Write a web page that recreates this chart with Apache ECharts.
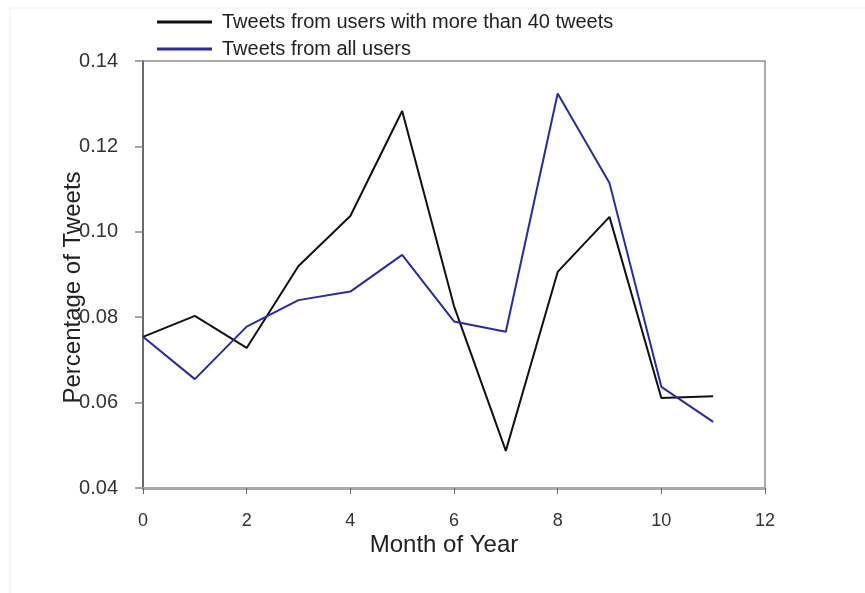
<!DOCTYPE html>
<html>
<head>
<meta charset="utf-8">
<script src="https://cdn.jsdelivr.net/npm/echarts@6/dist/echarts.min.js"></script>
<style>
  html, body { margin: 0; padding: 0; background: #fff; }
  #chart { width: 865px; height: 593px; }
</style>
</head>
<body>
<div id="chart"></div>
<script>
// Months 0..11
var months = [0, 1, 2, 3, 4, 5, 6, 7, 8, 9, 10, 11];

// Share of tweets per month
var heavyUsers = [0.0754, 0.0803, 0.0728, 0.0920, 0.1037, 0.1283, 0.0826, 0.0487, 0.0906, 0.1035, 0.0611, 0.0615];
var allUsers   = [0.0754, 0.0655, 0.0778, 0.0840, 0.0860, 0.0946, 0.0790, 0.0766, 0.1324, 0.1114, 0.0637, 0.0555];

var seriesNames = ['Tweets from users with more than 40 tweets', 'Tweets from all users'];

function pairs(xs, ys) {
  return xs.map(function (x, i) { return [x, ys[i]]; });
}

var font = '"Liberation Sans", Arial, sans-serif';
var chart = echarts.init(document.getElementById('chart'), null, { renderer: 'canvas' });

chart.setOption({
  animation: false,
  backgroundColor: '#ffffff',
  textStyle: { fontFamily: font },
  graphic: [{
    type: 'rect',
    shape: { x: 10, y: 8, width: 870, height: 600 },
    style: { fill: 'none', stroke: '#f0f0f0', lineWidth: 1 },
    z: -1
  }],
  legend: {
    orient: 'vertical',
    left: 152,
    top: 7,
    icon: 'rect',
    itemWidth: 55,
    itemHeight: 3,
    itemGap: 7,
    textStyle: { fontFamily: font, fontSize: 20, color: '#222', padding: [0, 0, 0, 5] },
    data: seriesNames
  },
  grid: {
    left: 143, right: 100, top: 61, bottom: 105,
    show: true,
    borderColor: '#aaaaaa',
    borderWidth: 2,
    containLabel: false
  },
  xAxis: {
    type: 'value',
    min: 0, max: 12, interval: 2,
    name: 'Month of Year',
    nameLocation: 'middle',
    nameGap: 45,
    nameMoveOverlap: false,
    nameTextStyle: { fontFamily: font, fontSize: 24, color: '#222', padding: [0, 20, 0, 0] },
    axisLine: { show: true, onZero: false, lineStyle: { color: '#aaaaaa', width: 3 } },
    axisTick: { show: true, inside: false, length: 6, lineStyle: { color: '#666', width: 1 } },
    axisLabel: { fontFamily: font, fontSize: 18, color: '#333', margin: 24 },
    splitLine: { show: false }
  },
  yAxis: {
    type: 'value',
    min: 0.04, max: 0.14, interval: 0.02,
    name: 'Percentage of Tweets',
    nameLocation: 'middle',
    nameGap: 58,
    nameMoveOverlap: false,
    nameTextStyle: { fontFamily: font, fontSize: 24, color: '#222', padding: [0, 26, 0, 0] },
    axisLine: { show: true, onZero: false, lineStyle: { color: '#555', width: 1.5 } },
    axisTick: { show: true, inside: false, length: 8, lineStyle: { color: '#888', width: 1.5 } },
    axisLabel: {
      fontFamily: font, fontSize: 20, color: '#333', margin: 25,
      formatter: function (v) { return v.toFixed(2); }
    },
    splitLine: { show: false }
  },
  series: [
    {
      name: seriesNames[0],
      type: 'line',
      data: pairs(months, heavyUsers),
      symbol: 'none',
      color: '#111111',
      lineStyle: { color: '#111111', width: 2 }
    },
    {
      name: seriesNames[1],
      type: 'line',
      data: pairs(months, allUsers),
      symbol: 'none',
      color: '#2a2aa8',
      lineStyle: { color: '#2a2aa8', width: 2 }
    }
  ]
});
</script>
</body>
</html>
